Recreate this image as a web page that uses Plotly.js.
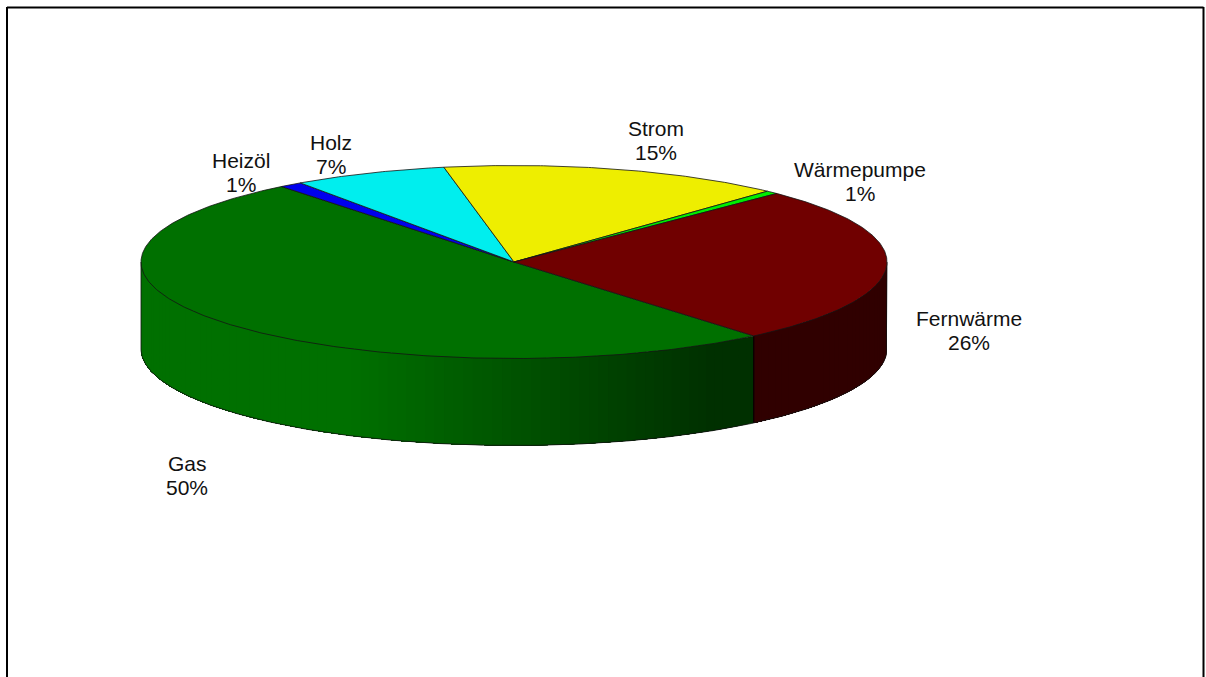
<!DOCTYPE html>
<html>
<head>
<meta charset="utf-8">
<script src="https://cdn.plot.ly/plotly-3.0.1.min.js"></script>
<style>html,body{margin:0;padding:0;background:#fff;overflow:hidden}#chart{width:1206px;height:677px}</style>
</head>
<body>
<div id="chart"></div>
<script>
// Data (clockwise, starting at the Gas slice)
const categories = ["Gas", "Heizöl", "Holz", "Strom", "Wärmepumpe", "Fernwärme"];
const shares = [50.4, 1.0, 6.7, 14.9, 0.55, 26.45];
const topColors = ["#007000", "#0000ee", "#00eeee", "#eeee00", "#00ee00", "#700000"];

// Layout of the drawing
const W = 1206, H = 677;
const CX = 514, CY = 262, RX = 373, RY = 96.5, DEPTH = 87;
const START = 50;       // degrees clockwise from 3 o'clock
const labelPos = [[187, 475.5], [241, 172.5], [331, 154], [656, 140.5], [860, 181.5], [969, 330.5]];
const LINE_GAP = 12;

const total = shares.reduce((a, b) => a + b, 0);
const px = d => CX + RX * Math.cos(d * Math.PI / 180);
const py = (d, z) => CY + (z || 0) + RY * Math.sin(d * Math.PI / 180);

function rgbOf(hex) { return [1, 3, 5].map(i => parseInt(hex.substr(i, 2), 16)); }
function shadeAt(x) {
  const t = Math.min(1, Math.max(0, (x - 350) / (710 - 350)));
  return 1 - 0.57 * t;
}
function arc(a, b, z, step) {
  const xs = [], ys = [];
  const n = Math.max(2, Math.ceil(Math.abs(b - a) / (step || 1)));
  for (let i = 0; i <= n; i++) {
    const d = a + (b - a) * i / n;
    xs.push(px(d)); ys.push(py(d, z));
  }
  return [xs, ys];
}

const slices = [];
let cursor = START;
shares.forEach((v, i) => {
  const sweep = v / total * 360;
  slices.push({ name: categories[i], color: topColors[i], a: cursor, b: cursor + sweep });
  cursor += sweep;
});

const traces = [];
const base = { type: "scatter", mode: "lines", hoverinfo: "skip", showlegend: false };

// Side wall: overlapping shaded strips on the front half of the rim.
// Each strip runs to the far end of its slice so no seams show between them.
const frontRanges = [];
slices.forEach(s => {
  [[s.a, s.b], [s.a - 360, s.b - 360]].forEach(([a, b]) => {
    const lo = Math.max(a, 0), hi = Math.min(b, 180);
    if (hi > lo) frontRanges.push({ lo, hi, color: s.color });
  });
});
frontRanges.forEach(r => {
  const rgb = rgbOf(r.color);
  const n = Math.ceil((r.hi - r.lo) / 1.5);
  for (let k = 0; k < n; k++) {
    const a = r.lo + (r.hi - r.lo) * k / n;
    const f = shadeAt(px(a + (r.hi - r.lo) / n / 2));
    const col = "rgb(" + rgb.map(c => Math.round(c * f)).join(",") + ")";
    const [tx, ty] = arc(a, r.hi, 0, 0.5);
    const [bx, by] = arc(r.hi, a, DEPTH, 0.5);
    traces.push(Object.assign({}, base, {
      x: tx.concat(bx), y: ty.concat(by), fill: "toself", fillcolor: col,
      line: { color: col, width: 0 }
    }));
  }
});
frontRanges.forEach(r => {
  [r.lo, r.hi].forEach(d => {
    if (d > 0 && d < 180) traces.push(Object.assign({}, base, {
      x: [px(d), px(d)], y: [py(d), py(d, DEPTH)], line: { color: "#000", width: 0.7 }
    }));
  });
});

// Outline of the wall
const [ox, oy] = arc(0, 180, DEPTH, 0.5);
traces.push(Object.assign({}, base, {
  x: [px(0)].concat(ox, [px(180)]), y: [py(0)].concat(oy, [py(180)]),
  line: { color: "#111", width: 0.8 }
}));

// Top face wedges
slices.forEach(s => {
  const [ax, ay] = arc(s.a, s.b, 0, 0.5);
  traces.push(Object.assign({}, base, {
    x: [CX].concat(ax, [CX]), y: [CY].concat(ay, [CY]),
    fill: "toself", fillcolor: s.color, line: { color: "#141414", width: 0.8 }
  }));
});

// Labels: name and percentage as separate lines with the reference's tight spacing
const labelFont = { family: "Liberation Sans, Arial, sans-serif", size: 21, color: "#111" };
const annotations = [];
slices.forEach((s, i) => {
  [[categories[i], -LINE_GAP], [Math.round(shares[i]) + "%", LINE_GAP]].forEach(([text, dy]) => {
    annotations.push({
      x: labelPos[i][0], y: labelPos[i][1] + dy, xref: "x", yref: "y",
      showarrow: false, text, font: labelFont
    });
  });
});

const frame = { color: "#000", width: 2 };
const layout = {
  width: W, height: H, margin: { l: 0, r: 0, t: 0, b: 0 },
  paper_bgcolor: "#fff", plot_bgcolor: "#fff", showlegend: false,
  xaxis: { range: [0, W], visible: false, fixedrange: true },
  yaxis: { range: [H, 0], visible: false, fixedrange: true },
  annotations,
  shapes: [
    { type: "line", xref: "x", yref: "y", x0: 7, y0: 7.5, x1: 1203.5, y1: 7.5, line: frame },
    { type: "line", xref: "x", yref: "y", x0: 7, y0: 7, x1: 7, y1: H + 2, line: frame },
    { type: "line", xref: "x", yref: "y", x0: 1203.5, y0: 7, x1: 1203.5, y1: H + 2, line: frame }
  ]
};
Plotly.newPlot("chart", traces, layout, { displayModeBar: false, staticPlot: true });
</script>
</body>
</html>
